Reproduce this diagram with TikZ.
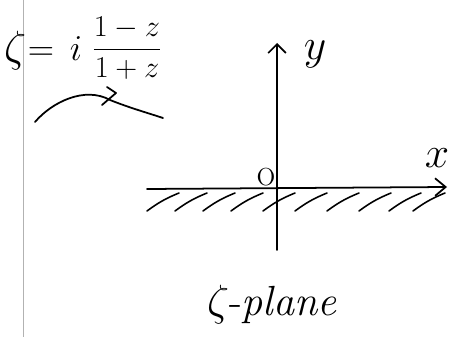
\documentclass[tikz,border=0pt]{standalone}
\usetikzlibrary{arrows.meta}
\begin{document}
\begin{tikzpicture}[x=0.02cm,y=-0.02cm,
  ink/.style={line width=1pt,line cap=round,line join=round},
  hatch/.style={line width=0.9pt,line cap=round},
  margin/.style={gray!60,line width=0.5pt},
  lbl/.style={inner sep=0pt}]
\useasboundingbox (0,0) rectangle (455,337);
% notebook margin line
\coordinate (mt) at (23,0);
\coordinate (mb) at (23,337);
\draw[margin] (mt) -- (mb);
% formula
\node[lbl,font=\fontsize{23}{27}\selectfont] (zeta) at (15,51) {$\zeta$};
\node[lbl,font=\fontsize{22}{26}\selectfont] (eq) at (41,54) {$=$};
\node[lbl,font=\fontsize{22}{26}\selectfont] (ii) at (76,49) {$i$};
\node[lbl,font=\fontsize{16}{20}\selectfont] (frac) at (127,48) {$\displaystyle\frac{1-z}{1+z}$};
% curved arrow
\coordinate (cs) at (35,122);
\coordinate (cm) at (110,100);
\coordinate (ce) at (163,118);
\coordinate (h1) at (107,87);
\coordinate (h2) at (116,93);
\coordinate (h3) at (102,105);
\draw[ink] (cs) .. controls (52,102) and (85,86) .. (cm) .. controls (130,108) and (148,113) .. (ce);
\draw[ink] (h1) -- (h2) -- (h3);
% axes
\coordinate (O) at (277,188);
\coordinate (xl) at (147,189);
\coordinate (xr) at (447,187);
\coordinate (yt) at (277,43);
\coordinate (yb) at (277,250);
\draw[ink,-{Straight Barb[length=6pt,width=10pt]}] (xl) -- (xr);
\draw[ink,-{Straight Barb[length=5pt,width=10pt]}] (yb) -- (yt);
% hatching
\foreach \x in {147,175,203,231,263,295,327,359,389,413}{
  \draw[hatch] (\x,211) to[bend left=7] (\x+32,193);
}
% labels
\node[lbl,font=\fontsize{14}{16}\selectfont] (olbl) at (266,177) {O};
\node[lbl,font=\fontsize{24}{28}\selectfont] (xlbl) at (437,158) {$x$};
\node[lbl,font=\fontsize{30}{34}\selectfont] (ylbl) at (315,54) {$y$};
\node[lbl,font=\fontsize{24}{28}\selectfont] (plane) at (272,305) {$\zeta$-\textit{plane}};
\end{tikzpicture}
\end{document}
